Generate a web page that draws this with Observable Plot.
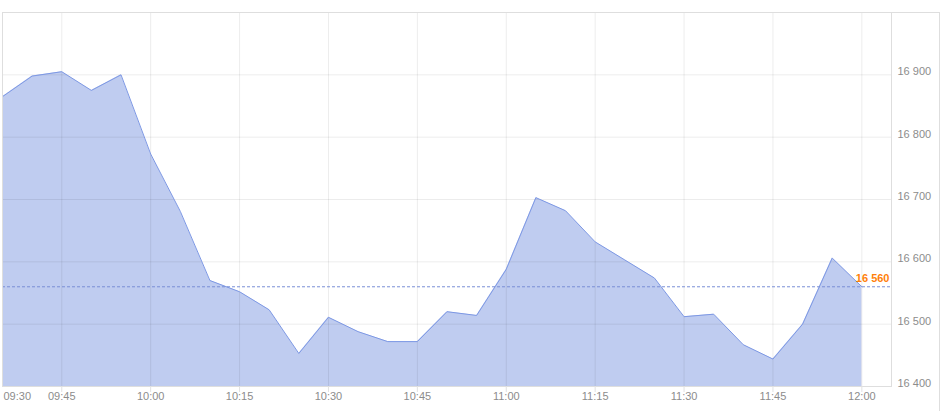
<!DOCTYPE html>
<html>
<head>
<meta charset="utf-8">
<script src="https://cdn.jsdelivr.net/npm/d3@7"></script>
<script src="https://cdn.jsdelivr.net/npm/@observablehq/plot@0.6"></script>
<style>
  html, body { margin: 0; padding: 0; background: #fff; }
  #chart svg { font-family: "Liberation Sans", Arial, sans-serif; font-size: 11px; display: block; }
</style>
</head>
<body>
<div id="chart"></div>
<script>
// Time stamps (5-minute bars) and index values
const times = ["09:35","09:40","09:45","09:50","09:55",
  "10:00","10:05","10:10","10:15","10:20","10:25","10:30","10:35","10:40","10:45","10:50","10:55",
  "11:00","11:05","11:10","11:15","11:20","11:25","11:30","11:35","11:40","11:45","11:50","11:55",
  "12:00"];
const values = [16865,16898,16905,16875,16900,
  16773,16681,16570,16552,16523,16453,16511,16488,16472,16472,16520,16514,
  16588,16703,16682,16632,16603,16574,16512,16516,16467,16444,16500,16606,
  16560];
const xTickLabels = ["09:45","10:00","10:15","10:30","10:45","11:00","11:15","11:30","11:45","12:00"];
const sessionOpenLabel = "09:30";
const xDomainLabels = ["09:35","12:05"];
const yTicks = [16400,16500,16600,16700,16800,16900];
const yDomain = [16400,17000];
const lastPrice = [16560];

const parseT = s => { const [h, m] = s.split(":").map(Number); return new Date(Date.UTC(2024, 0, 2, h, m)); };
const data = times.map((t, i) => ({time: parseT(t), value: values[i]}));
const xTicks = xTickLabels.map(parseT);
const fmtY = d => d3.format(",")(d).replace(/,/g, " ");

const W = 944, H = 411;
const mL = 2, mR = 53, mT = 12, mB = 25;

const chart = Plot.plot({
  width: W,
  height: H,
  marginLeft: mL,
  marginRight: mR,
  marginTop: mT,
  marginBottom: mB,
  style: {fontFamily: '"Liberation Sans", Arial, sans-serif', fontSize: "11px", background: "#fff", overflow: "visible"},
  x: {type: "utc", domain: xDomainLabels.map(parseT), label: null},
  y: {domain: yDomain, label: null},
  marks: [
    Plot.areaY(data, {x: "time", y: "value", y1: yDomain[0], fill: "#bfccf0", curve: "linear"}),
    Plot.ruleY(yTicks, {stroke: "#000", strokeOpacity: 0.075}),
    Plot.ruleX(xTicks, {stroke: "#000", strokeOpacity: 0.075}),
    Plot.lineY(data, {x: "time", y: "value", stroke: "#7d98e4", strokeWidth: 1}),
    Plot.ruleY(lastPrice, {stroke: "#7a8fd6", strokeDasharray: "3,2", strokeWidth: 1}),
    Plot.text(lastPrice, {y: d => d, frameAnchor: "right", textAnchor: "end", dx: -2, dy: -8,
      text: d => fmtY(d), fill: "#ff7f0a", fontWeight: "bold", fontSize: 11}),
    Plot.frame({stroke: "#dedede"}),
    Plot.axisX(xTicks, {anchor: "bottom", label: null, tickSize: 6, tickPadding: 0, stroke: "#e2e2e2", fill: "#8c8c8c",
      tickFormat: d3.utcFormat("%H:%M"), fontSize: 11}),
    Plot.text([sessionOpenLabel], {x: () => parseT(xDomainLabels[0]), frameAnchor: "bottom", textAnchor: "start",
      dx: 1, dy: 13, fill: "#8c8c8c", fontSize: 11, text: d => d}),
    Plot.axisY(yTicks, {anchor: "right", label: null, tickSize: 0, tickPadding: 6, textAnchor: "start", dy: -3,
      fill: "#8c8c8c", tickFormat: fmtY, fontSize: 11})
  ]
});

// outer panel border (top and right edge of the widget)
const svg = d3.select(chart);
svg.append("line").attr("x1", W - mR).attr("x2", W - 4).attr("y1", mT + 0.5).attr("y2", mT + 0.5)
  .attr("stroke", "#dedede");
svg.append("line").attr("x1", W - 4.5).attr("x2", W - 4.5).attr("y1", mT).attr("y2", H)
  .attr("stroke", "#dedede");

document.getElementById("chart").appendChild(chart);
</script>
</body>
</html>
